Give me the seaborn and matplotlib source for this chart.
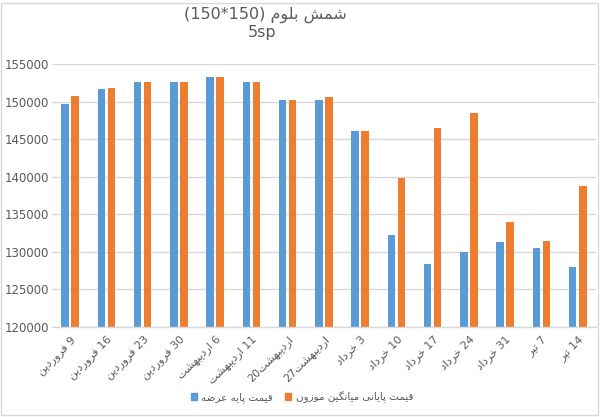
import matplotlib
matplotlib.use("Agg")
import matplotlib.pyplot as plt
import matplotlib.patches as mpatches
import pandas as pd
import seaborn as sns

# ---------------- data ----------------
categories = ["9 فروردین", "16 فروردین", "23 فروردین", "30 فروردین",
              "6 اردیبهشت", "11 اردیبهشت", "اردیبهشت20", "اردیبهشت27",
              "3 خرداد", "10 خرداد", "17 خرداد", "24 خرداد", "31 خرداد",
              "7 تیر", "14 تیر"]
base_price = [149650, 151650, 152600, 152600, 153300, 152600, 150270, 150230,
              146060, 132180, 128320, 129920, 131300, 130500, 127980]
final_price = [150800, 151780, 152600, 152600, 153300, 152600, 150270, 150670,
               146060, 139850, 146460, 148500, 133960, 131430, 138700]
series_names = ["قیمت پایه عرضه", "قیمت پایانی میانگین موزون"]
title_line1 = "شمش بلوم (150*150)"
title_line2 = "5sp"
yticks = [120000, 125000, 130000, 135000, 140000, 145000, 150000, 155000]

# ---------------- simple Arabic/Persian shaping for display ----------------
FORMS = {  # isolated, final, initial, medial
    'ا': (0xFE8D, 0xFE8E, None, None),
    'ب': (0xFE8F, 0xFE90, 0xFE91, 0xFE92),
    'پ': (0xFB56, 0xFB57, 0xFB58, 0xFB59),
    'ت': (0xFE95, 0xFE96, 0xFE97, 0xFE98),
    'خ': (0xFEA5, 0xFEA6, 0xFEA7, 0xFEA8),
    'د': (0xFEA9, 0xFEAA, None, None),
    'ر': (0xFEAD, 0xFEAE, None, None),
    'ز': (0xFEAF, 0xFEB0, None, None),
    'ش': (0xFEB5, 0xFEB6, 0xFEB7, 0xFEB8),
    'ض': (0xFEBD, 0xFEBE, 0xFEBF, 0xFEC0),
    'ع': (0xFEC9, 0xFECA, 0xFECB, 0xFECC),
    'ف': (0xFED1, 0xFED2, 0xFED3, 0xFED4),
    'ق': (0xFED5, 0xFED6, 0xFED7, 0xFED8),
    'گ': (0xFB92, 0xFB93, 0xFB94, 0xFB95),
    'ل': (0xFEDD, 0xFEDE, 0xFEDF, 0xFEE0),
    'م': (0xFEE1, 0xFEE2, 0xFEE3, 0xFEE4),
    'ن': (0xFEE5, 0xFEE6, 0xFEE7, 0xFEE8),
    'ه': (0xFEE9, 0xFEEA, 0xFEEB, 0xFEEC),
    'و': (0xFEED, 0xFEEE, None, None),
    'ی': (0xFBFC, 0xFBFD, 0xFBFE, 0xFBFF),
}


def is_ar(c):
    return c in FORMS


def dual(c):
    return c in FORMS and FORMS[c][2] is not None


def shape_run(s):
    out = []
    for i, c in enumerate(s):
        prev = s[i - 1] if i > 0 else None
        nxt = s[i + 1] if i + 1 < len(s) else None
        jp = prev is not None and dual(prev)
        jn = dual(c) and nxt is not None and is_ar(nxt)
        f = FORMS[c]
        if jp and jn:
            cp = f[3]
        elif jp:
            cp = f[1]
        elif jn:
            cp = f[2]
        else:
            cp = f[0]
        out.append(chr(cp))
    return "".join(out)


def visual(text):
    words = text.split(" ")
    vis_words = []
    for w in words:
        runs = []
        cur, cur_ar = "", None
        for c in w:
            a = is_ar(c)
            if cur and a != cur_ar:
                runs.append((cur, cur_ar))
                cur = ""
            cur += c
            cur_ar = a
        if cur:
            runs.append((cur, cur_ar))
        parts = [shape_run(r)[::-1] if a else r for r, a in runs]
        vis_words.append("".join(parts[::-1]))
    return " ".join(vis_words[::-1])


# ---------------- plot ----------------
sns.set_theme(style="white")
plt.rcParams['font.family'] = ['DejaVu Sans']

df = pd.DataFrame({
    "cat": categories * 2,
    "value": base_price + final_price,
    "series": [series_names[0]] * len(categories) + [series_names[1]] * len(categories),
})

fig = plt.figure(figsize=(6.0, 4.17), dpi=100)
ax = fig.add_axes([0.0867, 0.2158, 0.9063, 0.6307])

palette = {series_names[0]: "#5B9BD5", series_names[1]: "#ED7D31"}
sns.barplot(data=df, x="cat", y="value", hue="series", order=categories,
            hue_order=series_names, palette=palette, width=0.56, gap=0.26,
            saturation=1, ax=ax, legend=False, errorbar=None, linewidth=0)

ax.set_ylim(120000, 155000)
ax.set_yticks(yticks)
ax.set_yticklabels([str(v) for v in yticks], fontsize=8.5, color="#595959")
ax.set_xlim(-0.5, len(categories) - 0.5)
ax.set_xticks(range(len(categories)))
ax.set_xticklabels([visual(c) for c in categories], rotation=45, ha="right",
                   rotation_mode="anchor", fontsize=8, color="#595959")
ax.tick_params(axis="both", length=0)
ax.tick_params(axis="y", pad=2)
ax.tick_params(axis="x", pad=5)
ax.set_xlabel("")
ax.set_ylabel("")
ax.yaxis.grid(True, color="#D9D9D9", linewidth=1)
ax.set_axisbelow(True)
for s in ["top", "left", "right"]:
    ax.spines[s].set_visible(False)
ax.spines["bottom"].set_color("#D9D9D9")
ax.spines["bottom"].set_linewidth(1)

fig.text(0.442, 0.964, visual(title_line1), ha="center", va="center",
         fontsize=11.5, color="#595959")
fig.text(0.437, 0.922, title_line2, ha="center", va="center",
         fontsize=11.5, color="#595959")

handles = [mpatches.Patch(color=palette[n], label=visual(n)) for n in series_names]
fig.legend(handles=handles, loc="center", bbox_to_anchor=(0.503, 0.048), ncol=2,
           frameon=False, fontsize=7.5, handlelength=0.6, handleheight=0.6,
           handletextpad=0.4, columnspacing=1.2, labelcolor="#595959")

fig.patches.append(mpatches.Rectangle((0.002, 0.004), 0.994, 0.99,
                                      transform=fig.transFigure, fill=False,
                                      edgecolor="#D9D9D9", linewidth=1))

fig.savefig("out.png", dpi=100)
